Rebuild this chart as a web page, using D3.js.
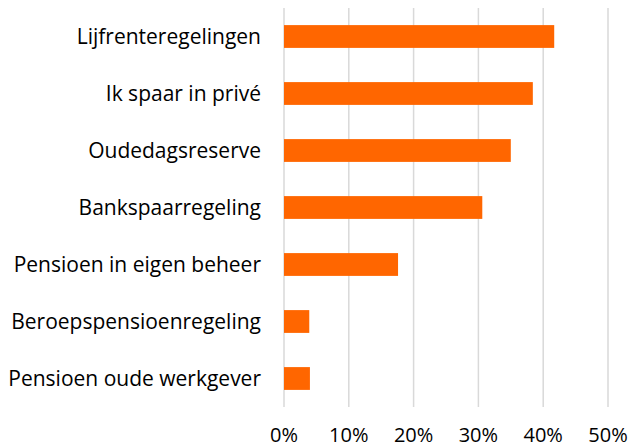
<!DOCTYPE html>
<html>
<head>
<meta charset="utf-8">
<script src="https://cdn.jsdelivr.net/npm/d3@7"></script>
<style>
  body { margin: 0; background: #fff; }
  text { font-family: "Open Sans", "Liberation Sans", sans-serif; fill: #000; }
</style>
</head>
<body>
<script>
// data
const categories = [
  "Lijfrenteregelingen",
  "Ik spaar in privé",
  "Oudedagsreserve ",
  "Bankspaarregeling",
  "Pensioen in eigen beheer",
  "Beroepspensioenregeling",
  "Pensioen oude werkgever"
];
const values = [0.417, 0.384, 0.350, 0.306, 0.176, 0.039, 0.040];
const xTicks = [0, 0.1, 0.2, 0.3, 0.4, 0.5];

const W = 630, H = 447;
const margin = { top: 8, right: 22, bottom: 40, left: 284 };

const svg = d3.select("body").append("svg")
  .attr("width", W)
  .attr("height", H);

const x = d3.scaleLinear()
  .domain([0, 0.5])
  .range([margin.left, W - margin.right]);

const y = d3.scaleBand()
  .domain(categories)
  .range([margin.top, H - margin.bottom])
  .paddingInner(0.6)
  .paddingOuter(0.3);

// gridlines
svg.append("g")
  .selectAll("line")
  .data(xTicks)
  .enter()
  .append("line")
  .attr("x1", d => x(d))
  .attr("x2", d => x(d))
  .attr("y1", margin.top)
  .attr("y2", H - margin.bottom)
  .attr("stroke", "#d9d9d9")
  .attr("stroke-width", 1.5);

// bars
svg.append("g")
  .selectAll("rect")
  .data(categories)
  .enter()
  .append("rect")
  .attr("x", x(0))
  .attr("y", d => y(d))
  .attr("width", (d, i) => x(values[i]) - x(0))
  .attr("height", y.bandwidth())
  .attr("fill", "#ff6600");

// category labels
svg.append("g")
  .selectAll("text")
  .data(categories)
  .enter()
  .append("text")
  .attr("x", 261)
  .attr("y", d => y(d) + y.bandwidth() / 2)
  .attr("dy", "0.36em")
  .attr("text-anchor", "end")
  .style("font-size", "21px")
  .text(d => d.trimEnd());

// x axis tick labels
svg.append("g")
  .selectAll("text")
  .data(xTicks)
  .enter()
  .append("text")
  .attr("x", d => x(d))
  .attr("y", 442)
  .attr("text-anchor", "middle")
  .style("font-size", "20px")
  .text(d3.format(".0%"));
</script>
</body>
</html>
